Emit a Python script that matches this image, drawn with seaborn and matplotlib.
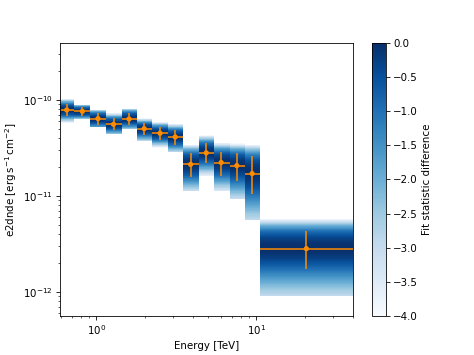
import numpy as np
import pandas as pd
import matplotlib
matplotlib.use("Agg")
import matplotlib.pyplot as plt
import seaborn as sns

# -------------------------------
# Data
# -------------------------------
energy_edges = [0.593, 0.729, 0.913, 1.149, 1.439, 1.785, 2.234, 2.786,
                3.47, 4.35, 5.42, 6.79, 8.50, 10.49, 40.1]
energy = [0.653, 0.818, 1.024, 1.28, 1.60, 1.99, 2.50, 3.11,
          3.88, 4.86, 6.02, 7.54, 9.40, 20.5]
e2dnde = [7.87e-11, 7.62e-11, 6.40e-11, 5.58e-11, 6.34e-11, 5.03e-11, 4.50e-11,
          4.12e-11, 2.13e-11, 2.81e-11, 2.23e-11, 2.07e-11, 1.71e-11, 2.82e-12]
e2dnde_up = [9.09e-11, 8.39e-11, 7.26e-11, 6.44e-11, 7.38e-11, 5.72e-11, 5.20e-11,
             4.87e-11, 2.79e-11, 3.54e-11, 2.90e-11, 2.79e-11, 2.58e-11, 4.28e-12]
e2dnde_lo = [6.82e-11, 6.82e-11, 5.54e-11, 4.87e-11, 5.50e-11, 4.29e-11, 3.84e-11,
             3.40e-11, 1.56e-11, 2.19e-11, 1.63e-11, 1.42e-11, 1.04e-11, 1.71e-12]
# flux range covered by the likelihood scan in each bin
scan_max = [1.04e-10, 8.9e-11, 7.9e-11, 7.3e-11, 8.0e-11, 6.6e-11, 6.1e-11,
            5.7e-11, 3.54e-11, 4.5e-11, 3.9e-11, 3.9e-11, 3.54e-11, 5.9e-12]
scan_min = [5.7e-11, 6.3e-11, 5.2e-11, 4.4e-11, 4.95e-11, 3.69e-11, 3.19e-11,
            2.9e-11, 1.11e-11, 1.6e-11, 1.11e-11, 9.3e-12, 5.65e-12, 9.0e-13]

points = pd.DataFrame({"energy": energy, "e2dnde": e2dnde,
                       "up": e2dnde_up, "lo": e2dnde_lo})

# -------------------------------
# Likelihood profile per bin
# -------------------------------
ylim = (5.6e-13, 3.93e-10)
flux_edges = np.geomspace(ylim[0], ylim[1], 501)
flux = np.sqrt(flux_edges[:-1] * flux_edges[1:])

profile = np.full((len(flux), len(energy)), np.nan)
for i, row in points.iterrows():
    sig_up = row["up"] - row["e2dnde"]
    sig_lo = row["e2dnde"] - row["lo"]
    d = np.where(flux > row["e2dnde"],
                 -((flux - row["e2dnde"]) / sig_up) ** 2,
                 -((row["e2dnde"] - flux) / sig_lo) ** 2)
    d[(d < -4) | (flux < scan_min[i]) | (flux > scan_max[i])] = np.nan
    profile[:, i] = d
profile = np.ma.masked_invalid(profile)

# -------------------------------
# Plot
# -------------------------------
sns.set_style("ticks")
plt.rcParams["font.family"] = ["DejaVu Sans"]
plt.rcParams["axes.edgecolor"] = "black"
plt.rcParams["text.color"] = "black"
plt.rcParams["axes.labelcolor"] = "black"
plt.rcParams["xtick.color"] = "black"
plt.rcParams["ytick.color"] = "black"

fig = plt.figure(figsize=(474 / 74, 355 / 74), dpi=74)
ax = fig.add_axes([0.1266, 0.1099, 0.6181, 0.769])
cax = fig.add_axes([0.7848, 0.1099, 0.0295, 0.769])

mesh = ax.pcolormesh(energy_edges, flux_edges, profile, cmap="Blues",
                     vmin=-4, vmax=0, shading="flat", linewidth=0, zorder=0)

xerr = [points["energy"] - np.array(energy_edges[:-1]),
        np.array(energy_edges[1:]) - points["energy"]]
yerr = [points["e2dnde"] - points["lo"], points["up"] - points["e2dnde"]]
ax.errorbar(points["energy"], points["e2dnde"], xerr=xerr, yerr=yerr,
            fmt="none", ecolor="darkorange", elinewidth=1.5, zorder=2)
sns.scatterplot(data=points, x="energy", y="e2dnde", ax=ax, color="darkorange",
                s=26, edgecolor="none", zorder=3, legend=False)

ax.set_xscale("log")
ax.set_yscale("log")
ax.set_xlim(energy_edges[0], energy_edges[-1])
ax.set_ylim(*ylim)
ax.set_xlabel("Energy [TeV]")
ax.set_ylabel(r"e2dnde [$\mathrm{erg\,s^{-1}\,cm^{-2}}$]")

cbar = fig.colorbar(mesh, cax=cax)
cbar.set_label("Fit statistic difference")

fig.savefig("out.png", dpi=74)
